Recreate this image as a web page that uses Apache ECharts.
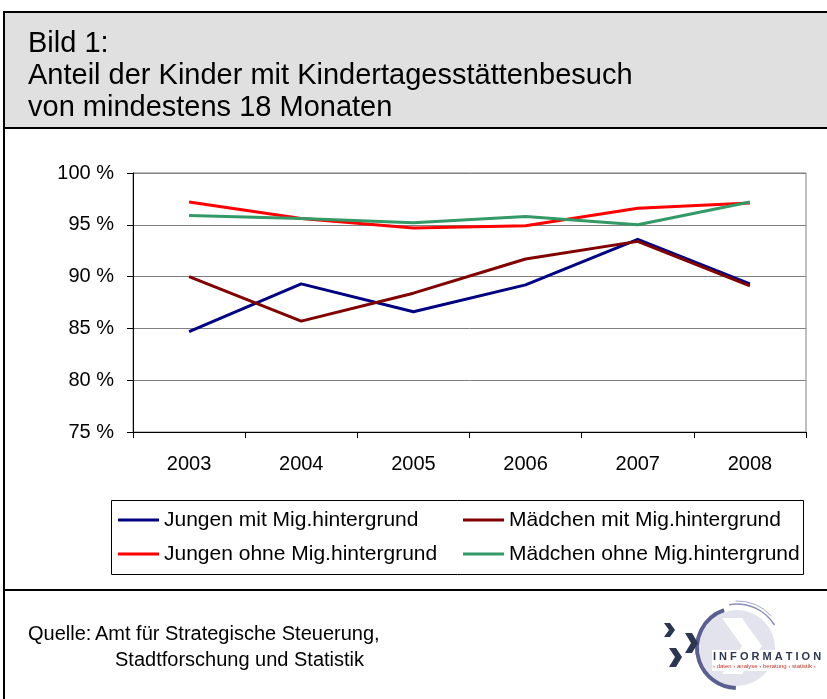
<!DOCTYPE html>
<html lang="de">
<head>
    <meta charset="UTF-8">
    <title>Bild 1</title>
    <script src="https://cdn.jsdelivr.net/npm/echarts@6/dist/echarts.min.js"></script>
    <style>
        html, body { margin: 0; padding: 0; background: #fff; }
        #chart { width: 827px; height: 699px; }
    </style>
</head>
<body>
<div id="chart"></div>
<script>
    // Daten
    var years = ['2003', '2004', '2005', '2006', '2007', '2008'];
    var jungenMit = [84.7, 89.3, 86.6, 89.2, 93.6, 89.3];
    var maedchenMit = [90.0, 85.7, 88.4, 91.7, 93.4, 89.1];
    var jungenOhne = [97.2, 95.6, 94.7, 94.9, 96.6, 97.1];
    var maedchenOhne = [95.9, 95.6, 95.2, 95.8, 95.0, 97.2];
    var seriesNames = ['Jungen mit Mig.hintergrund', 'Mädchen mit Mig.hintergrund',
        'Jungen ohne Mig.hintergrund', 'Mädchen ohne Mig.hintergrund'];
    var titleLines = ['Bild 1:', 'Anteil der Kinder mit Kindertagesstättenbesuch', 'von mindestens 18 Monaten'];

    var font = '"Liberation Sans", Arial, sans-serif';
    var chart = echarts.init(document.getElementById('chart'));

    function line(name, data, color) {
        return {
            name: name,
            type: 'line',
            data: data,
            symbol: 'none',
            lineStyle: {color: color, width: 3},
            itemStyle: {color: color},
            animation: false
        };
    }

    function legendCol(names, left) {
        return {
            data: names,
            orient: 'vertical', left: left, top: 508, padding: 0, itemGap: 10,
            icon: 'rect', itemWidth: 41, itemHeight: 3,
            textStyle: {color: '#000', fontSize: 21, fontFamily: font, lineHeight: 24},
            selectedMode: false
        };
    }

    var graphics = [
        // Rahmen und Titelfeld
        {type: 'rect', shape: {x: 4, y: 12, width: 840, height: 116},
            style: {fill: '#e0e0e0', stroke: '#000', lineWidth: 2}},
        {type: 'line', shape: {x1: 4, y1: 12, x2: 4, y2: 700},
            style: {stroke: '#000', lineWidth: 2}},
        {type: 'line', shape: {x1: 4, y1: 590, x2: 830, y2: 590},
            style: {stroke: '#000', lineWidth: 2}},
        // Legendenrahmen
        {type: 'rect', shape: {x: 111.5, y: 500.5, width: 692, height: 74},
            style: {fill: 'none', stroke: '#000', lineWidth: 1}},
        // Quelle
        {type: 'text', x: 28, y: 634,
            style: {text: 'Quelle:', fill: '#000', font: '20px ' + font, verticalAlign: 'middle'}},
        {type: 'text', x: 95, y: 634,
            style: {text: 'Amt für Strategische Steuerung,', fill: '#000', font: '20px ' + font, verticalAlign: 'middle'}},
        {type: 'text', x: 115, y: 660,
            style: {text: 'Stadtforschung und Statistik', fill: '#000', font: '20px ' + font, verticalAlign: 'middle'}},
        // Logo
        {type: 'circle', shape: {cx: 737, cy: 648, r: 38},
            style: {fill: '#e2e3ec'}},
        {type: 'arc', shape: {cx: 737, cy: 648, r: 40, startAngle: -1.9, endAngle: 1.6, clockwise: false},
            style: {stroke: '#5a5f8f', lineWidth: 4, fill: 'none'}},
        {type: 'arc', shape: {cx: 737, cy: 648, r: 44, startAngle: -1.75, endAngle: -0.55},
            style: {stroke: '#8a8fb5', lineWidth: 1.5, fill: 'none'}},
        {type: 'arc', shape: {cx: 737, cy: 648, r: 47, startAngle: -1.6, endAngle: -0.75},
            style: {stroke: '#a5a9c8', lineWidth: 1, fill: 'none'}},
        {type: 'polygon', shape: {points: [[722, 618], [742, 618], [762, 646], [742, 674], [722, 674], [742, 646]]},
            style: {fill: '#fff'}},
        {type: 'polygon', shape: {points: [[664, 623], [670, 623], [675, 630], [670, 637], [664, 637], [669, 630]]},
            style: {fill: '#2b3650'}},
        {type: 'polygon', shape: {points: [[685, 633], [692, 633], [698, 643], [692, 653], [685, 653], [691, 643]]},
            style: {fill: '#2b3650'}},
        {type: 'polygon', shape: {points: [[669, 648], [676, 648], [682, 657], [676, 667], [669, 667], [675, 657]]},
            style: {fill: '#2b3650'}},
        {type: 'rect', shape: {x: 712, y: 650, width: 115, height: 21},
            style: {fill: '#fff'}},
        {type: 'text', x: 713, y: 657,
            style: {text: 'I N F O R M A T I O N', fill: '#2b3650', font: 'bold 11px ' + font, verticalAlign: 'middle'}},
        {type: 'text', x: 713, y: 666,
            style: {text: '› daten › analyse › beratung › statistik ›', fill: '#c0392b', font: '6px ' + font, verticalAlign: 'middle'}}
    ];
    // Titelzeilen
    titleLines.forEach(function (t, i) {
        graphics.push({type: 'text', x: 28, y: 44 + i * 32,
            style: {text: t, fill: '#000', font: '29px ' + font, verticalAlign: 'middle'}});
    });

    var option = {
        backgroundColor: '#fff',
        grid: {
            left: 133, right: 21, top: 173, bottom: 267,
            show: true, borderColor: '#808080', borderWidth: 1
        },
        xAxis: {
            type: 'category',
            data: years,
            boundaryGap: true,
            axisLine: {lineStyle: {color: '#000', width: 1}},
            axisTick: {show: true, interval: 0, length: 6, lineStyle: {color: '#000'}},
            axisLabel: {color: '#000', fontSize: 20, fontFamily: font, margin: 22}
        },
        yAxis: {
            type: 'value',
            min: 75, max: 100, interval: 5,
            axisLine: {show: true, lineStyle: {color: '#000', width: 1}},
            axisTick: {show: true, length: 6, lineStyle: {color: '#000'}},
            axisLabel: {color: '#000', fontSize: 20, fontFamily: font, margin: 19,
                formatter: '{value} %'},
            splitLine: {lineStyle: {color: '#808080', width: 1}}
        },
        legend: [
            legendCol([seriesNames[0], seriesNames[2]], 118),
            legendCol([seriesNames[1], seriesNames[3]], 463)
        ],
        series: [
            line(seriesNames[0], jungenMit, '#000080'),
            line(seriesNames[1], maedchenMit, '#800000'),
            line(seriesNames[2], jungenOhne, '#ff0000'),
            line(seriesNames[3], maedchenOhne, '#339966')
        ],
        graphic: graphics
    };
    chart.setOption(option);
</script>
</body>
</html>
